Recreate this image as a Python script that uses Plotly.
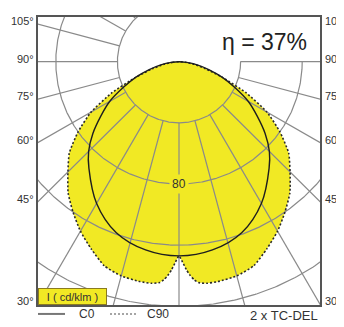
import numpy as np
import plotly.graph_objects as go

# ---- data (cd/klm vs angle from nadir, degrees) ----
gamma_c90 = [0, 1, 2, 3, 4, 5, 7, 10, 15, 20, 25, 30, 35, 40, 45, 50, 55, 60, 65, 70, 75, 80, 85, 90]
c90 = [127, 131, 136, 140, 143, 145, 146, 146, 145, 142, 135, 128, 120, 112, 102, 93, 80, 66, 48, 30, 18, 10, 4, 0]
gamma_c0 = [0, 10, 20, 30, 40, 45, 50, 55, 60, 65, 70, 75, 80, 85, 90]
c0 = [127, 125, 119, 107, 91, 83, 73, 62, 52, 40, 30, 20, 12, 5, 0]
grid_circles = [40, 80, 120, 160]
radial_angles = list(range(0, 360, 15))
edge_labels = [105, 90, 75, 60, 45, 30]
circle_label = 80
efficiency = "η = 37%"
unit_label = "I ( cd/klm )"
lamp_label = "2 x TC-DEL"

# ---- geometry / layout constants (page has an 8px body margin) ----
OFF = 8
W, H = 344 - OFF, 327 - OFF
L, R, T, B = 38 - OFF, 24, 15 - OFF, 22
S = 1.54  # px per cd/klm
XH = (W - L - R) / 2 / S
YT = 45 / S
YB = -(H - T - B - 45) / S
YELLOW = "#F1E924"
GRID = "#8a8a8a"
TXT = "#333333"
FONT = "Liberation Sans, Arial, sans-serif"


def polar_xy(g, v):
    g = np.radians(np.asarray(g, float))
    v = np.asarray(v, float)
    return v * np.sin(g), -v * np.cos(g)


def mirrored(g, v):
    g = np.asarray(g, float)
    v = np.asarray(v, float)
    ga = np.concatenate([-g[::-1], g[1:]])
    va = np.concatenate([v[::-1], v[1:]])
    return polar_xy(ga, va)


def mask(x, y):
    x = np.array(x, float)
    y = np.array(y, float)
    m = (x > 10) & (y > 0.5)
    x[m] = np.nan
    y[m] = np.nan
    return x, y


fig = go.Figure()

# yellow fill of C90
x90, y90 = mirrored(gamma_c90, c90)
fig.add_trace(go.Scatter(x=x90, y=y90, mode="lines", fill="toself", fillcolor=YELLOW,
                         line=dict(width=0, shape="spline", smoothing=0.5),
                         hoverinfo="skip", showlegend=False))

# grid circles
t = np.linspace(0, 2 * np.pi, 721)
for r in grid_circles:
    gx, gy = mask(r * np.cos(t), r * np.sin(t))
    fig.add_trace(go.Scatter(x=gx, y=gy, mode="lines", line=dict(color=GRID, width=1.2),
                             hoverinfo="skip", showlegend=False, connectgaps=False))

# radial lines
rr = np.linspace(grid_circles[0], 400, 400)
for a in radial_angles:
    gx, gy = polar_xy(np.full_like(rr, a), rr)
    gx, gy = mask(gx, gy)
    fig.add_trace(go.Scatter(x=gx, y=gy, mode="lines", line=dict(color=GRID, width=1.2),
                             hoverinfo="skip", showlegend=False, connectgaps=False))

# C90 dotted outline
fig.add_trace(go.Scatter(x=x90, y=y90, mode="lines",
                         line=dict(color="#2a2a2a", width=1.6, dash="2px,2px", shape="spline", smoothing=0.5),
                         hoverinfo="skip", showlegend=False))
# C0 solid
x0, y0 = mirrored(gamma_c0, c0)
fig.add_trace(go.Scatter(x=x0, y=y0, mode="lines",
                         line=dict(color="#1e1e1e", width=1.4, shape="spline", smoothing=1.0),
                         hoverinfo="skip", showlegend=False))

ann = []
# edge angle labels
for a in edge_labels:
    yv = -XH / np.tan(np.radians(a))
    for side in (-1, 1):
        ann.append(dict(x=side * XH, y=yv, xref="x", yref="y", text=f"{a}°", showarrow=False,
                        xanchor="right" if side < 0 else "left", yanchor="middle",
                        xshift=-2 if side < 0 else 3, yshift=3,
                        font=dict(family=FONT, size=11, color=TXT)))
# circle value label
ann.append(dict(x=0, y=-circle_label, xref="x", yref="y", text=str(circle_label), showarrow=False,
                bgcolor=YELLOW, borderpad=2, font=dict(family=FONT, size=12, color=TXT)))

PW, PH = W - L - R, H - T - B


def px(xp):
    return (xp - OFF - L) / PW


def py(yp):
    return (T + PH - (yp - OFF)) / PH


ann.append(dict(x=px(264), y=py(40), xref="paper", yref="paper", text=efficiency, showarrow=False,
                xanchor="center", yanchor="middle", font=dict(family=FONT, size=23, color="#222")))
ann.append(dict(x=0, y=0, xref="paper", yref="paper", text=unit_label, showarrow=False,
                xanchor="left", yanchor="bottom", width=67, height=15, borderpad=0, borderwidth=1,
                bordercolor="#8a7a20", bgcolor=YELLOW, align="center",
                font=dict(family=FONT, size=11, color=TXT)))
ann.append(dict(x=px(77), y=py(314), xref="paper", yref="paper", text="C0", showarrow=False,
                xanchor="left", yanchor="middle", font=dict(family=FONT, size=12, color=TXT)))
ann.append(dict(x=px(145), y=py(314), xref="paper", yref="paper", text="C90", showarrow=False,
                xanchor="left", yanchor="middle", font=dict(family=FONT, size=12, color=TXT)))
ann.append(dict(x=px(320), y=py(316), xref="paper", yref="paper", text=lamp_label, showarrow=False,
                xanchor="right", yanchor="middle", font=dict(family=FONT, size=13, color=TXT)))

shapes = [
    dict(type="line", xref="paper", yref="paper", x0=px(38), x1=px(65), y0=py(314), y1=py(314),
         line=dict(color="#777", width=2)),
    dict(type="line", xref="paper", yref="paper", x0=px(110), x1=px(138), y0=py(314), y1=py(314),
         line=dict(color="#888", width=1.5, dash="2px,2px")),
]

fig.update_layout(
    width=W, height=H, margin=dict(l=L, r=R, t=T, b=B),
    paper_bgcolor="white", plot_bgcolor="white", font=dict(family=FONT, color=TXT),
    showlegend=False, annotations=ann, shapes=shapes,
    xaxis=dict(range=[-XH, XH], showgrid=False, zeroline=False, showticklabels=False, ticks="",
               showline=True, mirror=True, linecolor="#555", linewidth=1.5, fixedrange=True),
    yaxis=dict(range=[YB, YT], showgrid=False, zeroline=False, showticklabels=False, ticks="",
               showline=True, mirror=True, linecolor="#555", linewidth=1.5, fixedrange=True),
)

fig.write_html("out.html")
